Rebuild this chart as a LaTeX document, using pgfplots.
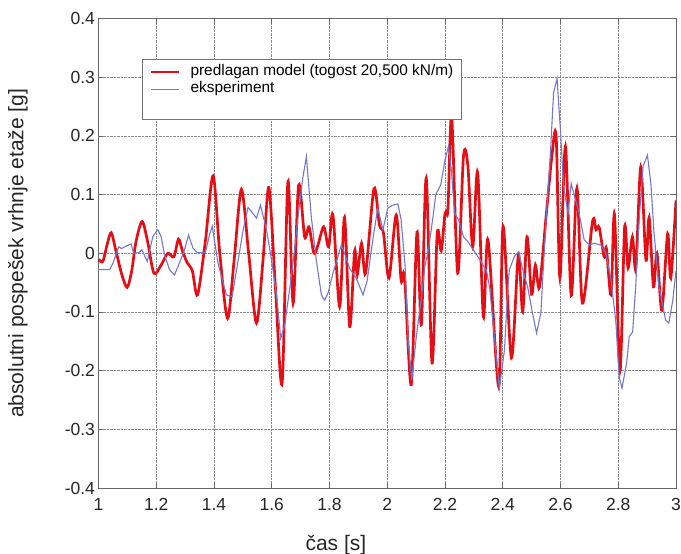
\documentclass[border=0pt]{standalone}
\usepackage{fontspec}
\setmainfont{Liberation Sans}
\usepackage{pgfplots}
\pgfplotsset{compat=1.18}
\definecolor{modelred}{RGB}{228,14,20}
\definecolor{expblue}{RGB}{118,118,206}

\begin{document}
\begin{tikzpicture}[x=1pt,y=1pt]
\useasboundingbox (-98.5,-66) rectangle (582.5,488);
\begin{axis}[
  at={(0,0)}, anchor=south west, scale only axis,
  width=577.5pt, height=469.5pt,
  xmin=1, xmax=3, ymin=-0.4, ymax=0.4,
  xtick={1,1.2,1.4,1.6,1.8,2,2.2,2.4,2.6,2.8,3},
  ytick={-0.4,-0.3,-0.2,-0.1,0,0.1,0.2,0.3,0.4},
  /pgf/number format/.cd, fixed, precision=1, assume math mode=true,
  /pgfplots/.cd,
  tick label style={font=\fontsize{17.5}{20}\selectfont, black!85},
  xticklabel style={yshift=-7pt},
  grid=major,
  major grid style={densely dotted, black!45, line width=0.6pt},
  tick align=inside, major tick length=5pt,
  tick style={black!60, line width=0.6pt},
  axis line style={black!60, line width=0.8pt},
  xlabel={čas [s]},
  ylabel={absolutni pospešek vrhnje etaže [g]},
  label style={font=\fontsize{21}{24}\selectfont, black!85},
  xlabel style={at={(axis description cs:0.411,-0.1214)}, anchor=center},
  ylabel style={at={(axis description cs:-0.1394,0.5)}, anchor=center},
  legend style={at={(axis description cs:0.0748,0.913)}, anchor=north west,
    draw=black!55, line width=0.7pt, fill=white,
    font=\fontsize{15.4}{18}\selectfont, inner xsep=3.3pt, inner ysep=3.5pt,
    nodes={inner xsep=5pt, inner ysep=1.7pt, text height=10.5pt, text depth=3.5pt}},
  legend cell align=left,
  legend image code/.code={\path (-4.5pt,0pt) (33pt,0pt); \draw[#1] (0pt,0pt) -- (28pt,0pt);},
]
\addplot[modelred, line width=2.7pt, smooth, tension=0.5] coordinates {
(1.000,-0.010) (1.015,-0.014) (1.030,0.015) (1.044,0.035) (1.060,0.005)
(1.080,-0.035) (1.099,-0.058) (1.115,-0.030) (1.130,0.020) (1.151,0.054)
(1.170,0.020) (1.192,-0.034) (1.217,-0.020) (1.240,0.000) (1.261,-0.006)
(1.277,0.024) (1.290,0.005) (1.307,-0.016) (1.325,-0.030) (1.343,-0.071)
(1.370,0.020) (1.397,0.132) (1.420,0.000) (1.447,-0.111) (1.470,-0.010)
(1.495,0.109) (1.520,0.000) (1.547,-0.119) (1.570,-0.010) (1.590,0.112)
(1.613,-0.060) (1.636,-0.221) (1.656,0.122) (1.674,-0.085) (1.693,0.116)
(1.714,0.028) (1.729,0.045) (1.746,0.000) (1.760,0.014) (1.780,0.045)
(1.797,0.011) (1.812,0.065) (1.835,-0.091) (1.852,0.061) (1.870,-0.125)
(1.887,0.004) (1.896,-0.037) (1.911,0.017) (1.925,-0.034) (1.954,0.110)
(1.973,0.048) (1.987,0.034) (2.006,-0.042) (2.031,0.065) (2.048,-0.046)
(2.060,-0.040) (2.083,-0.224) (2.103,0.036) (2.118,-0.122) (2.135,0.128)
(2.155,-0.187) (2.173,0.033) (2.187,0.004) (2.200,0.068) (2.210,0.074)
(2.223,0.233) (2.244,-0.034) (2.264,0.165) (2.279,0.150) (2.296,0.011)
(2.313,0.138) (2.333,-0.108) (2.349,0.023) (2.386,-0.227) (2.401,0.046)
(2.430,-0.178) (2.454,-0.003) (2.469,-0.100) (2.484,0.028) (2.500,-0.070)
(2.513,-0.020) (2.527,-0.058) (2.550,0.062) (2.570,0.165) (2.585,0.199)
(2.598,-0.042) (2.617,0.182) (2.637,-0.072) (2.657,0.111) (2.676,-0.085)
(2.711,0.054) (2.723,0.040) (2.734,0.044) (2.751,-0.006) (2.759,0.008)
(2.775,-0.071) (2.787,0.066) (2.806,-0.200) (2.822,0.044) (2.834,-0.025)
(2.849,0.028) (2.861,-0.025) (2.878,0.147) (2.896,-0.012) (2.907,0.061)
(2.922,-0.057) (2.934,0.000) (2.951,-0.097) (2.971,0.033) (2.982,-0.042)
(3.000,0.090)
};
\addlegendentry{predlagan model (togost 20,500 kN/m)}
\addplot[expblue, line width=1.1pt] coordinates {
(1.000,-0.028) (1.039,-0.028) (1.050,-0.017) (1.070,0.011) (1.080,0.008)
(1.095,0.012) (1.113,0.016) (1.122,0.000) (1.140,0.001) (1.150,0.006)
(1.169,-0.014) (1.188,0.028) (1.196,0.034) (1.206,0.040) (1.217,0.028)
(1.229,-0.003) (1.246,-0.028) (1.263,-0.037) (1.275,-0.023) (1.296,0.003)
(1.312,0.031) (1.327,0.009) (1.342,0.001) (1.370,0.001) (1.386,0.034)
(1.394,0.046) (1.414,-0.017) (1.432,-0.051) (1.443,-0.071) (1.463,-0.074)
(1.484,-0.011) (1.501,0.040) (1.518,0.078) (1.530,0.071) (1.547,0.060)
(1.561,0.082) (1.582,0.040) (1.599,-0.011) (1.616,-0.068) (1.631,-0.145)
(1.645,-0.122) (1.665,-0.050) (1.680,0.010) (1.690,0.057) (1.705,0.120)
(1.720,0.165) (1.737,0.062) (1.754,-0.011) (1.772,-0.071) (1.783,-0.080)
(1.795,-0.068) (1.812,-0.034) (1.841,0.014) (1.852,0.000) (1.870,-0.026)
(1.893,-0.043) (1.916,-0.071) (1.930,-0.048) (1.950,0.023) (1.967,0.077)
(1.985,0.040) (2.002,0.077) (2.019,0.082) (2.037,0.084) (2.048,0.057)
(2.062,-0.023) (2.073,-0.153) (2.085,-0.216) (2.100,-0.145) (2.117,-0.080)
(2.131,-0.020) (2.143,0.006) (2.160,0.068) (2.168,0.100) (2.185,0.116)
(2.200,0.159) (2.212,0.182) (2.222,0.142) (2.233,0.068) (2.247,0.057)
(2.264,0.028) (2.279,0.020) (2.298,0.006) (2.321,-0.011) (2.344,-0.030)
(2.355,-0.060) (2.371,-0.142) (2.388,-0.230) (2.406,-0.165) (2.417,-0.063)
(2.423,-0.028) (2.440,-0.006) (2.455,0.003) (2.469,-0.028) (2.486,-0.057)
(2.503,-0.102) (2.517,-0.136) (2.532,-0.102) (2.544,0.006) (2.553,0.080)
(2.565,0.170) (2.576,0.273) (2.588,0.298) (2.599,0.216) (2.611,0.113)
(2.626,0.068) (2.637,0.119) (2.649,0.096) (2.662,0.074) (2.682,0.023)
(2.700,0.014) (2.717,0.017) (2.740,0.014) (2.757,0.000) (2.775,-0.045)
(2.792,-0.119) (2.803,-0.210) (2.813,-0.230) (2.829,-0.187) (2.838,-0.142)
(2.850,-0.134) (2.861,-0.051) (2.873,0.062) (2.886,0.148) (2.901,0.167)
(2.913,0.119) (2.924,0.034) (2.941,-0.057) (2.964,-0.114) (2.975,-0.119)
(2.989,-0.080) (3.000,-0.030)
};
\addlegendentry{eksperiment}
\addlegendimage{empty legend}
\addlegendentry{}
\end{axis}
\end{tikzpicture}
\end{document}
